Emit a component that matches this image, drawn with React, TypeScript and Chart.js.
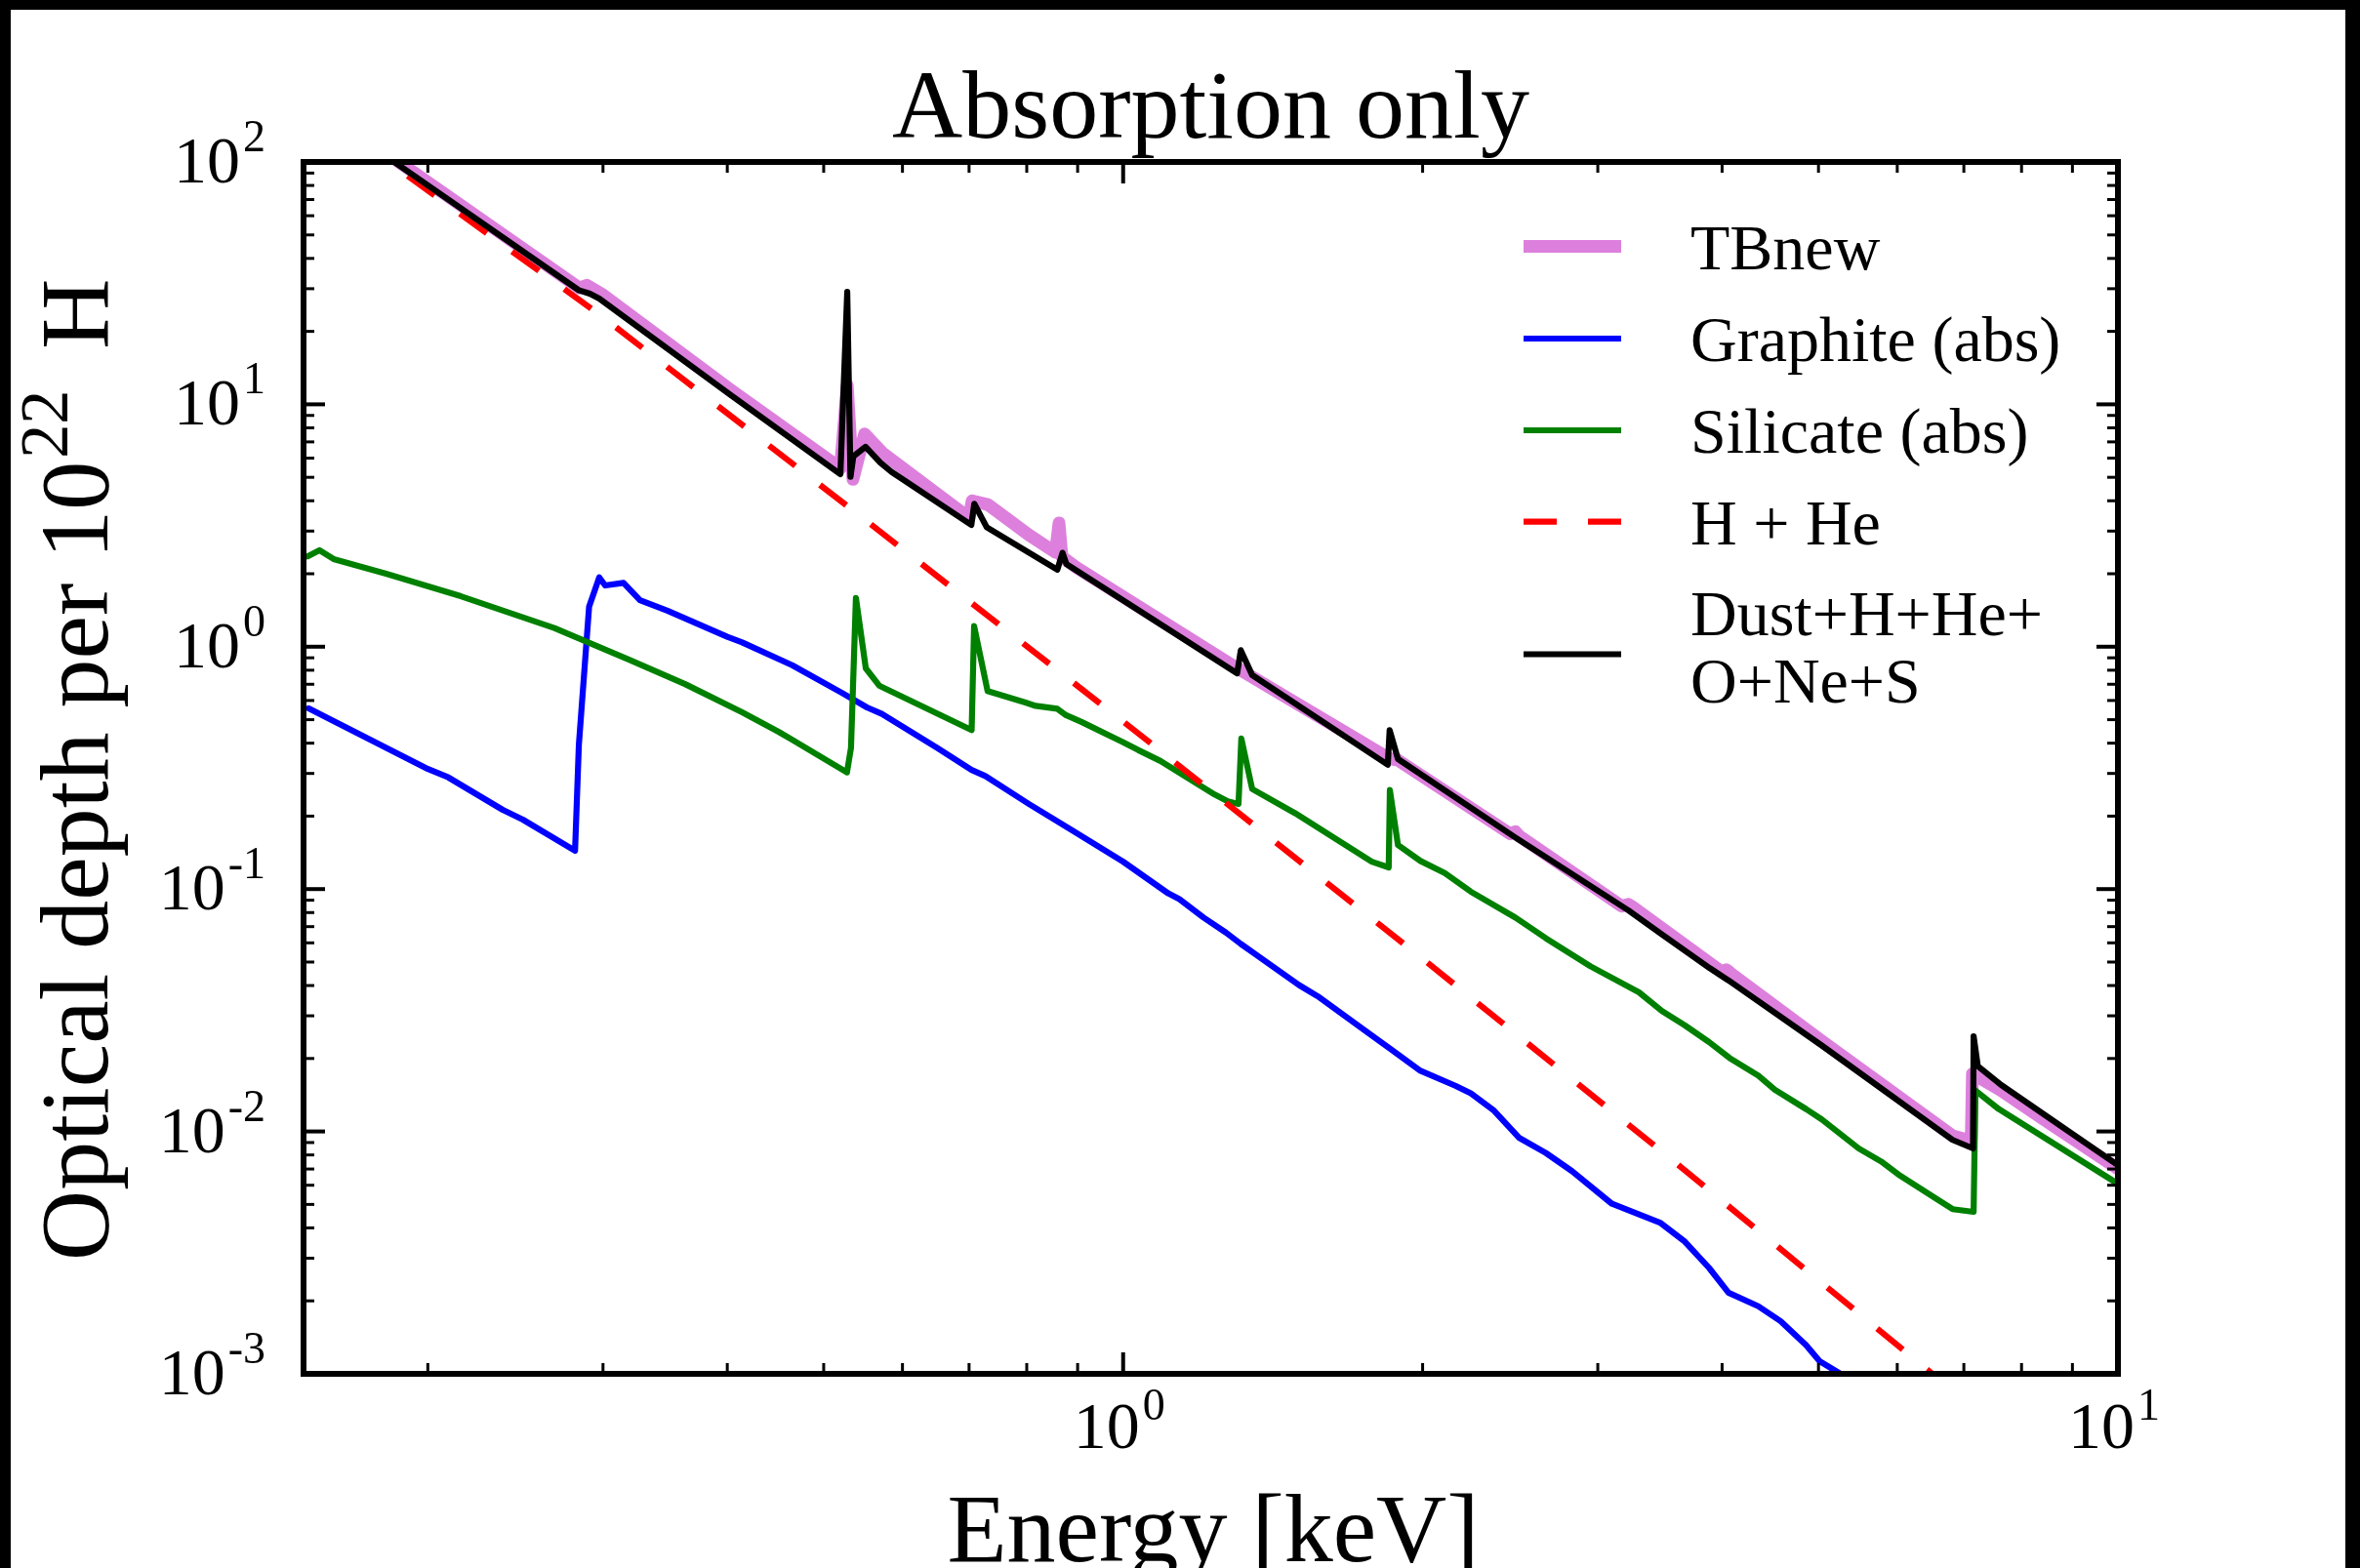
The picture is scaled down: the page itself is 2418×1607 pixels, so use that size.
import React, { useEffect, useRef } from "react";
import { Chart, registerables } from "chart.js";

Chart.register(...registerables);

const W = 2418;
const H = 1607;

// ---- Data (energy in keV, optical depth per 1e22 H) ----
const tbnewE = [0.15, 0.187, 0.284, 0.289, 0.30, 0.4027, 0.5197, 0.528, 0.535, 0.5497, 0.573, 0.70, 0.705, 0.731, 0.804, 0.855, 0.862, 0.868, 0.898, 1.292, 1.853, 1.889, 2.45, 2.48, 2.50, 3.17, 3.22, 3.25, 4.0, 4.04, 4.08, 5.04, 6.82, 7.12, 7.14, 7.63, 8.39, 10.0];
const tbnewTau = [190, 100, 30.2, 31.0, 28.3, 11.5, 5.45, 12.0, 4.9, 7.55, 6.3, 3.4, 4.0, 3.86, 2.89, 2.45, 3.24, 2.35, 2.12, 0.832, 0.345, 0.34, 0.169, 0.1725, 0.166, 0.085, 0.0865, 0.0845, 0.0455, 0.0465, 0.045, 0.0236, 0.0096, 0.00914, 0.0173, 0.01476, 0.01132, 0.00702];

const graphiteE = [0.1518, 0.2001, 0.2097, 0.2379, 0.2492, 0.2812, 0.2837, 0.2905, 0.2974, 0.3015, 0.3146, 0.3268, 0.3482, 0.40, 0.414, 0.4648, 0.5216, 0.5526, 0.572, 0.6505, 0.7042, 0.727, 0.804, 0.885, 1.0, 1.11, 1.139, 1.205, 1.269, 1.313, 1.354, 1.502, 1.569, 1.756, 1.865, 1.99, 2.16, 2.236, 2.356, 2.502, 2.66, 2.825, 3.10, 3.47, 3.67, 3.88, 4.06, 4.35, 4.58, 4.86, 5.01, 5.26, 5.6];
const graphiteTau = [0.5565, 0.3126, 0.289, 0.2123, 0.1935, 0.144, 0.394, 1.464, 1.933, 1.789, 1.835, 1.557, 1.407, 1.098, 1.042, 0.839, 0.645, 0.562, 0.528, 0.382, 0.31, 0.2924, 0.2244, 0.1764, 0.1297, 0.096, 0.0909, 0.0762, 0.0661, 0.0594, 0.0543, 0.0402, 0.0361, 0.0258, 0.0216, 0.0178, 0.0154, 0.01436, 0.01225, 0.0094, 0.00815, 0.00687, 0.00503, 0.00419, 0.00351, 0.00274, 0.00216, 0.0019, 0.00165, 0.00131, 0.00113, 0.001, 0.00078];

const silicateE = [0.1514, 0.1556, 0.1608, 0.1816, 0.2159, 0.268, 0.3187, 0.3628, 0.414, 0.4504, 0.4648, 0.5277, 0.5326, 0.5387, 0.5512, 0.5686, 0.7042, 0.7082, 0.7307, 0.7977, 0.8165, 0.8587, 0.876, 0.908, 1.0, 1.035, 1.09, 1.236, 1.274, 1.306, 1.3146, 1.348, 1.489, 1.778, 1.849, 1.854, 1.889, 1.99, 2.105, 2.236, 2.48, 2.66, 2.95, 3.30, 3.48, 3.67, 3.88, 4.07, 4.35, 4.52, 4.86, 5.04, 5.49, 5.78, 6.04, 6.61, 6.82, 7.16, 7.19, 7.59, 10.0];
const silicateTau = [2.36, 2.5, 2.3, 2.0, 1.615, 1.194, 0.883, 0.701, 0.536, 0.4455, 0.413, 0.303, 0.382, 1.59, 0.814, 0.691, 0.453, 1.216, 0.656, 0.588, 0.57, 0.5546, 0.522, 0.4895, 0.4036, 0.375, 0.3378, 0.2455, 0.23, 0.2245, 0.418, 0.2588, 0.2056, 0.1297, 0.1229, 0.2562, 0.152, 0.1306, 0.1165, 0.0976, 0.0762, 0.0627, 0.048, 0.0375, 0.0314, 0.0274, 0.0234, 0.0201, 0.017, 0.01486, 0.01236, 0.0112, 0.0085, 0.00752, 0.00657, 0.00519, 0.00478, 0.00466, 0.01476, 0.01236, 0.00608];

const hheE = [0.15, 0.1945, 0.2974, 0.538, 1.04, 2.0, 3.57, 6.36, 7.0];
const hheTau = [180, 82.8, 23.5, 3.59, 0.433, 0.0516, 0.00759, 0.00108, 0.00078];

const dustE = [0.15, 0.187, 0.2836, 0.291, 0.2974, 0.4027, 0.5197, 0.528, 0.532, 0.5355, 0.5508, 0.57, 0.585, 0.7037, 0.7085, 0.7292, 0.8587, 0.869, 0.877, 1.302, 1.313, 1.348, 1.845, 1.853, 1.889, 2.48, 3.22, 3.47, 3.89, 4.06, 5.04, 6.82, 7.15, 7.16, 7.23, 7.63, 10.0];
const dustTau = [182, 97, 29.6, 28.6, 27.3, 10.96, 5.15, 29.1, 5.02, 6.1, 6.68, 5.75, 5.26, 3.18, 3.89, 3.11, 2.08, 2.44, 2.19, 0.777, 0.967, 0.764, 0.326, 0.452, 0.344, 0.163, 0.0817, 0.0655, 0.0471, 0.042, 0.0226, 0.00923, 0.00851, 0.0247, 0.0186, 0.01556, 0.00726];

const seriesLabels = ["TBnew", "Graphite (abs)", "Silicate (abs)", "H + He", "Dust+H+He+\nO+Ne+S"];

// ---- Axes ----
const X_MIN = 0.15;
const X_MAX = 10;
const Y_MIN = 1e-3;
const Y_MAX = 100;
const xMajorTicks = [1, 10];
const xMajorExps = ["0", "1"];
const xMinorTicks = [0.2, 0.3, 0.4, 0.5, 0.6, 0.7, 0.8, 0.9, 2, 3, 4, 5, 6, 7, 8, 9];
const yMajorTicks = [1e-3, 1e-2, 1e-1, 1, 10, 100];
const yMajorExps = ["-3", "-2", "-1", "0", "1", "2"];
const yMinorMult = [2, 3, 4, 5, 6, 7, 8, 9];

const titleText = "Absorption only";
const xTitleText = "Energy [keV]";
const yTitleMain = "Optical depth per 10";
const yTitleSup = "22";
const yTitleEnd = "H";

const FONT = '"Liberation Serif", "Times New Roman", serif';

function pts(xs: number[], ys: number[]) {
  return xs.map((x, i) => ({ x, y: ys[i] }));
}

function drawPow(ctx: CanvasRenderingContext2D, base: string, exp: string, x: number, baseline: number, align: "right" | "center", mainSize: number, supSize: number, raise: number) {
  ctx.font = `${mainSize}px ${FONT}`;
  const wb = ctx.measureText(base).width;
  ctx.font = `${supSize}px ${FONT}`;
  const we = ctx.measureText(exp).width;
  const gap = 3;
  const total = wb + gap + we;
  const x0 = align === "right" ? x - total : x - total / 2;
  ctx.textAlign = "left";
  ctx.textBaseline = "alphabetic";
  ctx.font = `${mainSize}px ${FONT}`;
  ctx.fillText(base, x0, baseline);
  ctx.font = `${supSize}px ${FONT}`;
  ctx.fillText(exp, x0 + wb + gap, baseline - raise);
}

const decorPlugin = {
  id: "decor",
  afterDraw(chart: any) {
    const { ctx, chartArea: a, scales } = chart;
    const xs = scales.x;
    const ys = scales.y;
    ctx.save();
    ctx.fillStyle = "#000";
    ctx.strokeStyle = "#000";

    // ticks (inward, all four sides)
    const seg = (x1: number, y1: number, x2: number, y2: number, w: number) => {
      ctx.lineWidth = w;
      ctx.beginPath();
      ctx.moveTo(x1, y1);
      ctx.lineTo(x2, y2);
      ctx.stroke();
    };
    const MAJ = 22, MIN = 11;
    xMajorTicks.forEach((v) => {
      const p = xs.getPixelForValue(v);
      seg(p, a.bottom, p, a.bottom - MAJ, 4);
      seg(p, a.top, p, a.top + MAJ, 4);
    });
    xMinorTicks.forEach((v) => {
      const p = xs.getPixelForValue(v);
      seg(p, a.bottom, p, a.bottom - MIN, 3);
      seg(p, a.top, p, a.top + MIN, 3);
    });
    yMajorTicks.forEach((v, i) => {
      const p = ys.getPixelForValue(v);
      seg(a.left, p, a.left + MAJ, p, 4);
      seg(a.right, p, a.right - MAJ, p, 4);
      if (i < yMajorTicks.length - 1) {
        yMinorMult.forEach((m) => {
          const q = ys.getPixelForValue(v * m);
          seg(a.left, q, a.left + MIN, q, 3);
          seg(a.right, q, a.right - MIN, q, 3);
        });
      }
    });

    // frame
    ctx.lineWidth = 6;
    ctx.strokeRect(a.left, a.top, a.right - a.left, a.bottom - a.top);

    // tick labels
    yMajorTicks.forEach((v, i) => {
      const p = ys.getPixelForValue(v);
      drawPow(ctx, "10", yMajorExps[i], 272, p + 21, "right", 68, 46, 32);
    });
    xMajorTicks.forEach((v, i) => {
      const p = xs.getPixelForValue(v);
      drawPow(ctx, "10", xMajorExps[i], p - 4, a.bottom + 76, "center", 68, 46, 29);
    });

    // title
    ctx.textAlign = "center";
    ctx.textBaseline = "alphabetic";
    ctx.font = `100px ${FONT}`;
    ctx.fillText(titleText, (a.left + a.right) / 2, 141);
    // x title
    ctx.fillText(xTitleText, 1243, 1600);

    // y title (rotated)
    ctx.save();
    ctx.translate(110, 1292);
    ctx.rotate(-Math.PI / 2);
    ctx.textAlign = "left";
    ctx.font = `100px ${FONT}`;
    const w1 = ctx.measureText(yTitleMain).width;
    ctx.fillText(yTitleMain, 0, 0);
    ctx.font = `70px ${FONT}`;
    const w2 = ctx.measureText(yTitleSup).width;
    ctx.fillText(yTitleSup, w1 + 3, -41);
    ctx.font = `100px ${FONT}`;
    ctx.fillText(yTitleEnd, w1 + 3 + w2 + 42, 0);
    ctx.restore();

    // legend
    const ds = chart.data.datasets;
    const lineY = [252.6, 347, 441, 534.6, 670.5];
    const textBase = [[276], [370], [464], [557.6], [651, 720]];
    ds.forEach((d: any, i: number) => {
      ctx.save();
      ctx.strokeStyle = d.borderColor;
      ctx.lineWidth = d.borderWidth;
      ctx.lineCap = "butt";
      ctx.setLineDash(d.borderDash || []);
      ctx.beginPath();
      ctx.moveTo(1561, lineY[i]);
      ctx.lineTo(1661, lineY[i]);
      ctx.stroke();
      ctx.restore();
      ctx.fillStyle = "#000";
      ctx.textAlign = "left";
      ctx.font = `66px ${FONT}`;
      const lines = String(d.label).split("\n");
      lines.forEach((ln, j) => ctx.fillText(ln, 1732, textBase[i][j]));
    });

    // outer black frame of the image
    ctx.fillStyle = "#000";
    ctx.fillRect(0, 0, W, 10);
    ctx.fillRect(0, 0, 11, H);
    ctx.fillRect(W - 15, 0, 15, H);
    ctx.restore();
  },
};

export default function App() {
  const ref = useRef<HTMLCanvasElement | null>(null);
  useEffect(() => {
    if (!ref.current) return;
    const common = { pointRadius: 0, tension: 0, fill: false, clip: 0, borderJoinStyle: "round" as const, borderCapStyle: "round" as const };
    const chart = new Chart(ref.current, {
      type: "line",
      data: {
        datasets: [
          { ...common, label: seriesLabels[0], data: pts(tbnewE, tbnewTau), borderColor: "#DD80DD", borderWidth: 13, order: 4 },
          { ...common, label: seriesLabels[1], data: pts(graphiteE, graphiteTau), borderColor: "#0000FF", borderWidth: 6.2, order: 3 },
          { ...common, label: seriesLabels[2], data: pts(silicateE, silicateTau), borderColor: "#008000", borderWidth: 6.2, order: 2 },
          { ...common, label: seriesLabels[3], data: pts(hheE, hheTau), borderColor: "#FF0000", borderWidth: 6.2, borderDash: [34, 32], borderCapStyle: "butt" as const, order: 1 },
          { ...common, label: seriesLabels[4], data: pts(dustE, dustTau), borderColor: "#000000", borderWidth: 6.2, order: 0 },
        ],
      },
      options: {
        responsive: false,
        animation: false,
        devicePixelRatio: 1,
        layout: { padding: { left: 311, top: 166, right: W - 2170, bottom: H - 1408 } },
        plugins: { legend: { display: false }, title: { display: false }, tooltip: { enabled: false } },
        scales: {
          x: { type: "logarithmic", min: X_MIN, max: X_MAX, display: false },
          y: { type: "logarithmic", min: Y_MIN, max: Y_MAX, display: false },
        },
      },
      plugins: [decorPlugin],
    } as any);
    return () => chart.destroy();
  }, []);
  return (
    <div style={{ position: "absolute", left: 0, top: 0, width: W, height: H, background: "#fff", overflow: "hidden" }}>
      <canvas ref={ref} width={W} height={H} style={{ display: "block" }} />
    </div>
  );
}
